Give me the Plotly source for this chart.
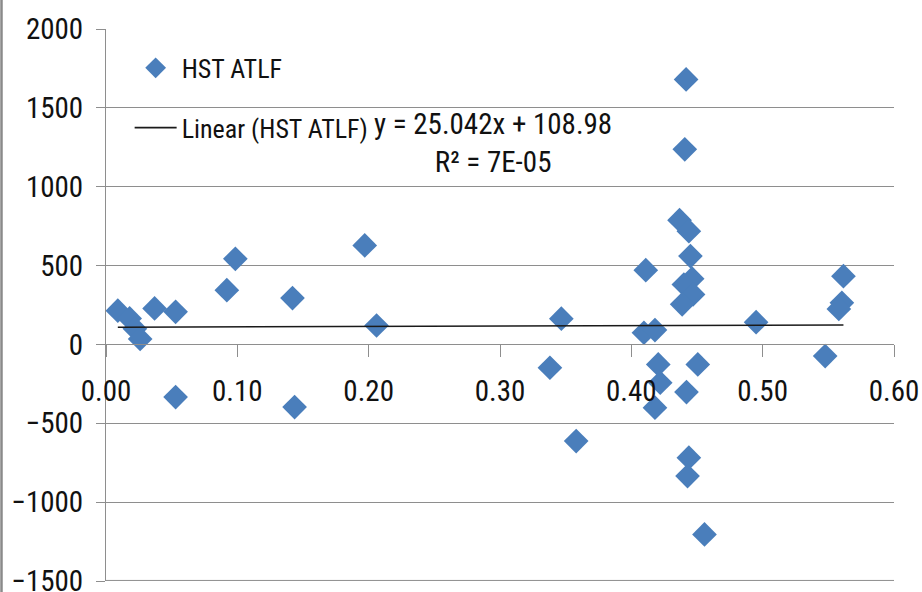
import plotly.graph_objects as go

# Data (HST ATLF)
x_vals = [0.009, 0.018, 0.022, 0.026, 0.037, 0.053, 0.053, 0.092, 0.0985, 0.142,
          0.1436, 0.197, 0.206, 0.338, 0.3467, 0.358, 0.4096, 0.411, 0.418, 0.4205,
          0.422, 0.418, 0.4367, 0.4417, 0.4407, 0.4438, 0.445, 0.4463, 0.440, 0.447,
          0.4387, 0.4506, 0.442, 0.4438, 0.4428, 0.4557, 0.495, 0.5476, 0.5615, 0.5603,
          0.558]
y_vals = [214, 165, 100, 35, 228, 207, -334, 344, 543, 294,
          -397, 628, 120, -148, 163, -613, 74, 471, 91, -127,
          -243, -401, 788, 1680, 1237, 718, 560, 417, 380, 317,
          254, -127, -302, -718, -835, -1205, 141, -74, 433, 264,
          225]

# Trendline coefficients as printed on the chart
slope = 25.042
intercept = 108.98
eq_text = "y = 25.042x + 108.98<br>R² = 7E-05"

x_ticks = [0.0, 0.1, 0.2, 0.3, 0.4, 0.5, 0.6]
x_tick_text = ["0.00", "0.10", "0.20", "0.30", "0.40", "0.50", "0.60"]
y_ticks = [-1500, -1000, -500, 0, 500, 1000, 1500, 2000]

FONT = "Liberation Sans Narrow, Arial Narrow, Roboto Condensed, Lato, sans-serif"
GRID = "#8e8e8e"

x_min, x_max = min(x_vals), max(x_vals)
trend_x = [x_min, x_max]
trend_y = [slope * v + intercept for v in trend_x]

fig = go.Figure()
fig.add_trace(go.Scatter(
    x=x_vals, y=y_vals, mode="markers", name="HST ATLF",
    legendgroup="a",
    marker=dict(symbol="diamond", size=19, color="#4A7EBB", line=dict(width=0)),
))
fig.add_trace(go.Scatter(
    x=trend_x, y=trend_y, mode="lines", name="Linear (HST ATLF)",
    legendgroup="b",
    line=dict(color="#1a1a1a", width=1.6),
))

fig.update_layout(
    width=922, height=592,
    margin=dict(l=106, r=28, t=29, b=11, autoexpand=False),
    paper_bgcolor="white", plot_bgcolor="white",
    font=dict(family=FONT, size=29, color="#111111"),
    showlegend=True,
    legend=dict(
        x=0.030, y=0.972, xanchor="left", yanchor="top",
        bgcolor="rgba(0,0,0,0)", font=dict(size=26, family=FONT, color="#111111"),
        tracegroupgap=23, itemwidth=42,
    ),
    xaxis=dict(
        range=[0, 0.6], tickvals=x_ticks, ticktext=x_tick_text,
        showgrid=False, zeroline=False,
        showline=True, linecolor=GRID, linewidth=1,
        ticks="outside", ticklen=12, tickcolor=GRID, tickwidth=1,
        anchor="free", position=1500 / 3500,
        ticklabelstandoff=9, automargin=False, ticklabeloverflow="allow",
        tickfont=dict(size=29, family=FONT, color="#111111"),
    ),
    yaxis=dict(
        range=[-1500, 2000], tickvals=y_ticks,
        showgrid=True, gridcolor=GRID, gridwidth=1,
        zeroline=False,
        showline=True, linecolor=GRID, linewidth=1,
        ticks="outside", ticklen=9, tickcolor=GRID, tickwidth=1,
        ticklabelstandoff=7, automargin=False, ticklabeloverflow="allow",
        tickfont=dict(size=29, family=FONT, color="#111111"),
    ),
    annotations=[dict(
        x=0.295, y=1275, xref="x", yref="y", text=eq_text, showarrow=False,
        align="center", font=dict(size=29, family=FONT, color="#111111"),
    )],
    shapes=[
        dict(
            type="line", xref="paper", yref="paper",
            x0=-104.5 / 788, x1=-104.5 / 788, y0=-11 / 552, y1=1 + 29 / 552,
            line=dict(color="#8a8a8a", width=2.5),
        ),
        dict(
            type="line", xref="paper", yref="paper",
            x0=0, x1=1, y0=0.001, y1=0.001,
            line=dict(color=GRID, width=1),
        ),
    ],
)

fig.write_html("out.html")
